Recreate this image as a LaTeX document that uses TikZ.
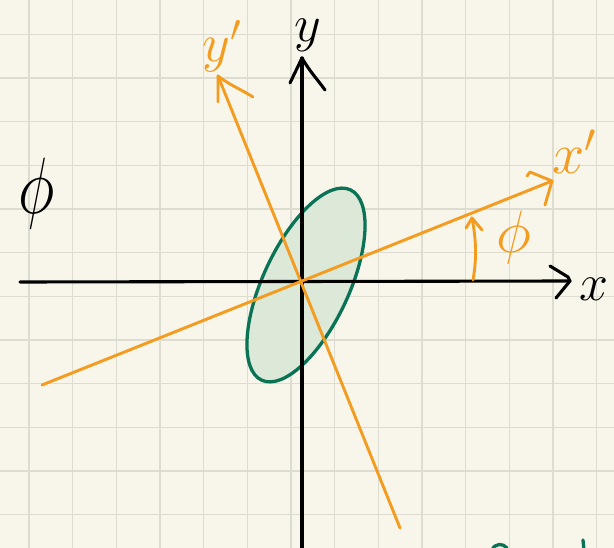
\RequirePackage{fix-cm}
\documentclass[tikz,border=0pt]{standalone}
\usetikzlibrary{arrows.meta}
\definecolor{paper}{HTML}{F8F6EA}
\definecolor{gridc}{HTML}{DCDCD0}
\definecolor{orng}{HTML}{F39C1F}
\definecolor{grn}{HTML}{0A7356}
\definecolor{grnfill}{HTML}{DCE8D8}
\begin{document}
\begin{tikzpicture}[x=1pt,y=-1pt,line cap=round,line join=round,
  gridline/.style={gridc,line width=1.3pt},
  blackline/.style={black,line width=3.1pt},
  orangeline/.style={orng,line width=2.9pt},
  greenline/.style={grn,line width=3.3pt},
  lab/.style={inner sep=0pt}]
\fill[paper] (0,0) rectangle (614,548);
\useasboundingbox (0,0) rectangle (614,548);
% grid
\foreach \i in {0,...,13} \draw[gridline] ({29+43.66*\i},0) -- ({29+43.66*\i},548);
\foreach \i in {0,...,11} \draw[gridline] (0,{34.3+43.66*\i}) -- (614,{34.3+43.66*\i});
% coordinates
\coordinate (O) at (302,282);
\coordinate (xl) at (20,282);
\coordinate (xr) at (570,281);
\coordinate (yb) at (302,552);
\coordinate (yt) at (302,58);
\coordinate (xpl) at (42,385);
\coordinate (xpr) at (552,181);
\coordinate (ypt) at (218,76);
\coordinate (ypb) at (400,528);
\coordinate (phia) at (473,280);
\coordinate (phib) at (472,218);
% ellipse
\draw[greenline,fill=grnfill] (306,285) ellipse[x radius=105,y radius=43,rotate=65];
% axes
\draw[blackline] (xl) -- (xr);
\draw[blackline] (550,266) -- (568,277) -- (xr) -- (556,298);
\draw[blackline] (yb) -- (yt);
\draw[blackline] (290,83) -- (yt) .. controls (310,72) and (318,80) .. (325,90);
% rotated axes
\draw[orangeline] (xpl) -- (xpr);
\draw[orangeline] (527,176) -- (530,172) -- (xpr) -- (545,205);
\draw[orangeline] (ypt) -- (ypb);
\draw[orangeline] (218,102) -- (ypt) .. controls (228,84) and (242,90) .. (253,97);
% angle
\draw[orangeline] (phia) .. controls (477,258) and (476,238) .. (phib);
\draw[orangeline] (466,228) -- (phib) -- (482,230);
% labels
\node[lab,font=\fontsize{52}{52}\selectfont] (ylab) at (308,35) {$y$};
\node[lab,font=\fontsize{52}{52}\selectfont] (xlab) at (594,289) {$x$};
\node[lab,text=orng,font=\fontsize{58}{58}\selectfont] (xplab) at (574,152) {$x'$};
\node[lab,text=orng,font=\fontsize{54}{54}\selectfont] (yplab) at (222,46) {$y^{\prime}$};
\node[lab,font=\fontsize{80}{80}\selectfont] (phiblack) at (37,194) {\scalebox{0.78}[1]{$\phi$}};
\node[lab,text=orng,font=\fontsize{60}{60}\selectfont] (phiorange) at (514,238) {$\phi$};
% cut-off green marks at bottom
\draw[greenline] (492,550) .. controls (495,543) and (503,543) .. (507,548);
\draw[greenline] (583,540) -- (584,550);
\end{tikzpicture}
\end{document}
